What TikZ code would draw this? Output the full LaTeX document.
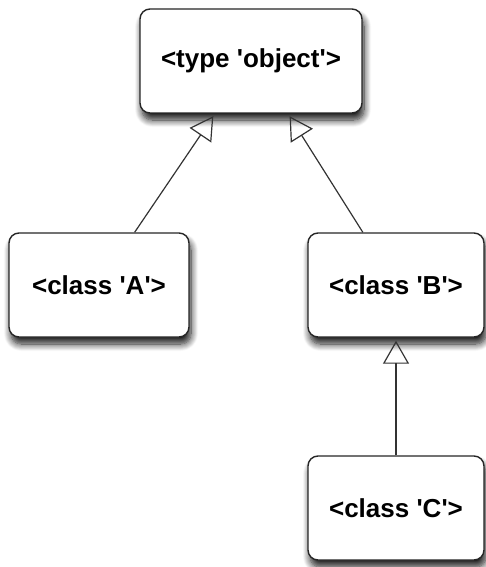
\documentclass[tikz,border=0pt]{standalone}
\usepackage{fontspec}
\setmainfont{Liberation Sans}
\usetikzlibrary{arrows.meta,shadows.blur,calc}
\newcommand{\q}{\textquotesingle}
\begin{document}
\begin{tikzpicture}[x=1pt,y=-1pt,
  cls/.style={draw=black!85,line width=1.4pt,rounded corners=10pt,fill=white,
    blur shadow={shadow xshift=2pt,shadow yshift=-7pt,shadow blur steps=10,shadow blur radius=7pt,shadow opacity=90},
    minimum height=104pt,inner sep=0pt,font=\fontsize{26}{30}\selectfont\bfseries},
  inh/.style={draw=black!80,line width=1.2pt,-{Triangle[open,length=23pt,width=26pt,line width=1.2pt]},shorten >=3pt}]
\useasboundingbox (0,0) rectangle (485,567);
\node[cls,minimum width=222pt] (obj) at (251,61) {<type \q object\q >};
\node[cls,minimum width=180pt] (A) at (99,285) {<class \q A\q >};
\node[cls,minimum width=176pt] (B) at (396,285) {<class \q B\q >};
\node[cls,minimum width=176pt] (C) at (396,508) {<class \q C\q >};
\coordinate (ta) at ($(obj.south)+(-36,0)$);
\coordinate (tb) at ($(obj.south)+(37,0)$);
\draw[inh] (A) -- (ta);
\draw[inh] (B) -- (tb);
\draw[inh] (C) -- (B);
\end{tikzpicture}
\end{document}
